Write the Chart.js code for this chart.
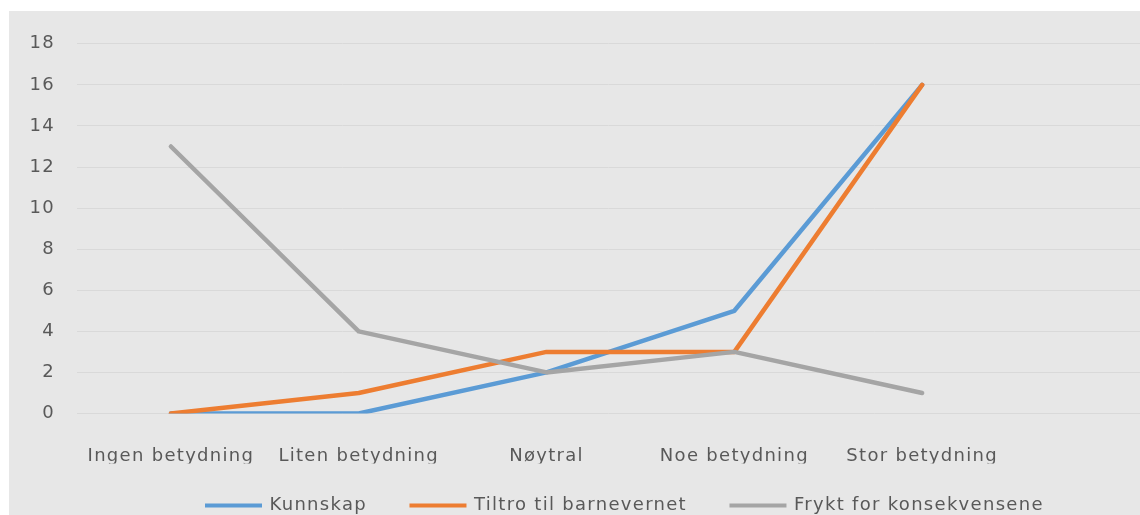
<!DOCTYPE html>
<html><head><meta charset="utf-8">
<script src="https://cdn.jsdelivr.net/npm/chart.js@4.4.1/dist/chart.umd.min.js"></script>
<style>
html,body{margin:0;padding:0;background:#fff;overflow:hidden;width:1140px;height:515px;}
#wrap{position:absolute;left:9px;top:11px;width:1131px;height:504px;background:#e7e7e7;}
canvas{display:block;}
</style></head><body>
<div id="wrap"><canvas id="c" width="1131" height="504"></canvas></div>
<script>
const categories = ['Ingen betydning', 'Liten betydning', 'Nøytral', 'Noe betydning', 'Stor betydning'];
const kunnskap = [0, 0, 2, 5, 16];
const tiltro = [0, 1, 3, 3, 16];
const frykt = [13, 4, 2, 3, 1];
const seriesNames = ['Kunnskap', 'Tiltro til barnevernet', 'Frykt for konsekvensene'];
const seriesColors = ['#5B9BD5', '#ED7D31', '#A5A5A5'];
const yTicks = [0, 2, 4, 6, 8, 10, 12, 14, 16, 18];

const textColor = '#595959';
const font = {family: 'DejaVu Sans', size: 18};

function makeSet(label, values, color, order) {
  return {
    label, order,
    data: values.map((v, i) => ({x: i, y: v})),
    borderColor: color, backgroundColor: color,
    borderWidth: 4.5, pointRadius: 0, pointHoverRadius: 0, tension: 0,
    borderJoinStyle: 'round', borderCapStyle: 'round'
  };
}

const tweak = {
  id: 'tweak',
  beforeUpdate(chart) { chart.ctx.letterSpacing = '1.3px'; },
  beforeLayout(chart) { chart.ctx.letterSpacing = '1.3px'; },
  beforeDraw(chart) { chart.ctx.letterSpacing = '1.3px'; },
  afterLayout(chart) {
    const lg = chart.legend;
    if (lg) { lg.left = 153.5; lg.top -= 11; }
  }
};

new Chart(document.getElementById('c'), {
  type: 'line',
  data: {
    datasets: [
      makeSet(seriesNames[0], kunnskap, seriesColors[0], 3),
      makeSet(seriesNames[1], tiltro, seriesColors[1], 2),
      makeSet(seriesNames[2], frykt, seriesColors[2], 1)
    ]
  },
  options: {
    responsive: false,
    animation: false,
    layout: {padding: {top: 31, left: 0, right: 0, bottom: 0}},
    plugins: {
      tooltip: {enabled: false},
      legend: {
        position: 'bottom', align: 'start', maxHeight: 51.5,
        labels: {
          color: textColor, font, padding: 44, boxWidth: 54, boxHeight: 1,
          sort: (a, b) => a.datasetIndex - b.datasetIndex,
          generateLabels(chart) {
            const items = Chart.defaults.plugins.legend.labels.generateLabels(chart);
            items.forEach(it => { it.lineWidth = 3; it.lineCap = 'butt'; it.lineJoin = 'miter'; it.lineDash = []; });
            return items;
          }
        }
      }
    },
    scales: {
      x: {
        type: 'linear', min: -0.5, max: 5.16,
        grid: {display: false}, border: {display: false},
        afterBuildTicks: s => { s.ticks = categories.map((c, i) => ({value: i})); },
        afterFit: s => { s.height = 50; },
        ticks: {padding: 24, maxRotation: 0, autoSkip: false, color: textColor, font,
          callback: v => (categories[v] !== undefined ? categories[v] : '')}
      },
      y: {
        min: 0, max: 18,
        afterBuildTicks: s => { s.ticks = yTicks.map(v => ({value: v})); },
        afterFit: s => { s.width = 68; },
        grid: {color: '#d9d9d9', drawTicks: false, lineWidth: 1},
        border: {display: false},
        ticks: {padding: 22, color: textColor, font}
      }
    }
  },
  plugins: [tweak]
});
</script>
</body></html>
